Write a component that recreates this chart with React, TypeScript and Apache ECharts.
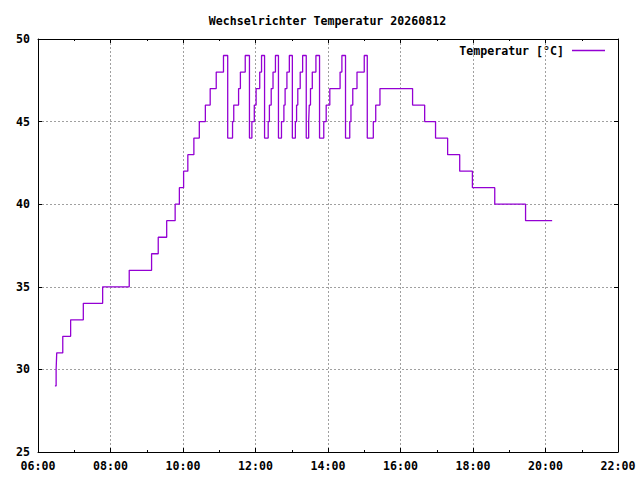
import React, { useEffect, useRef } from "react";
import * as echarts from "echarts";

const chartTitle = "Wechselrichter Temperatur 20260812";
const seriesName = "Temperatur [°C]";

const times = [
  "06:28", "06:30", "06:31", "06:41", "06:54", "07:15", "07:47", "08:31", "09:08", "09:19",
  "09:33", "09:47", "09:54", "10:01", "10:08", "10:18", "10:27", "10:37", "10:45", "10:55",
  "11:07", "11:14", "11:22", "11:24", "11:32", "11:35", "11:43", "11:50", "11:54", "11:58",
  "12:01", "12:07", "12:10", "12:15", "12:21", "12:23", "12:26", "12:29", "12:33", "12:38",
  "12:43", "12:47", "12:49", "12:52", "12:56", "13:01", "13:06", "13:08", "13:10", "13:14",
  "13:18", "13:24", "13:28", "13:29", "13:31", "13:34", "13:40", "13:46", "13:53", "13:57",
  "14:03", "14:20", "14:23", "14:29", "14:36", "14:38", "14:41", "14:48", "15:00", "15:05",
  "15:15", "15:19", "15:26", "16:20", "16:40", "16:58", "17:18", "17:38", "17:59", "18:36",
  "19:27", "20:11",
];

const temps = [
  29, 30, 31, 32, 33, 34, 35, 36, 37, 38,
  39, 40, 41, 42, 43, 44, 45, 46, 47, 48,
  49, 44, 45, 46, 47, 48, 49, 44, 45, 46,
  47, 48, 49, 44, 45, 46, 47, 48, 49, 44,
  45, 46, 47, 48, 49, 44, 45, 46, 47, 48,
  49, 44, 45, 46, 47, 48, 49, 44, 45, 46,
  47, 48, 49, 44, 45, 46, 47, 48, 49, 44,
  45, 46, 47, 46, 45, 44, 43, 42, 41, 40,
  39, 39,
];

const xMin = "06:00";
const xMax = "22:00";
const yMin = 25;
const yMax = 50;

const toMin = (s: string) => {
  const [h, m] = s.split(":").map(Number);
  return h * 60 + m;
};
const fmt = (v: number) => {
  const h = Math.floor(v / 60);
  const m = Math.round(v % 60);
  return `${String(h).padStart(2, "0")}:${String(m).padStart(2, "0")}`;
};

const FONT = "'DejaVu Sans Mono', monospace";
const LINE_COLOR = "#9400d3";

export default function App() {
  const ref = useRef<HTMLDivElement>(null);
  useEffect(() => {
    if (!ref.current) return;
    const chart = echarts.init(ref.current, undefined, { renderer: "svg" });
    const data = times.map((t, i) => [toMin(t), temps[i]]);
    const gridLine = { show: true, lineStyle: { color: "#a0a0a0", type: [2, 2], width: 1 } };
    const axisLineStyle = { show: true, lineStyle: { color: "#000", width: 1 } };
    const label = { fontFamily: FONT, fontSize: 11.6, fontWeight: "bold", color: "#000" };
    chart.setOption({
      animation: false,
      backgroundColor: "#fff",
      grid: { left: 38, top: 39, width: 580, height: 413, containLabel: false },
      xAxis: [
        {
          type: "value",
          min: toMin(xMin),
          max: toMin(xMax),
          interval: 120,
          axisLine: axisLineStyle,
          axisTick: { show: true, inside: true, length: 4, lineStyle: { color: "#000" } },
          minorTick: { show: true, splitNumber: 2, length: 2, lineStyle: { color: "#000" } },
          axisLabel: { ...label, margin: 8, formatter: (v: number) => fmt(v) },
          splitLine: gridLine,
        },
        {
          type: "value",
          position: "top",
          min: toMin(xMin),
          max: toMin(xMax),
          interval: 120,
          axisLine: axisLineStyle,
          axisTick: { show: true, inside: true, length: 4, lineStyle: { color: "#000" } },
          minorTick: { show: true, splitNumber: 2, length: 2, lineStyle: { color: "#000" } },
          axisLabel: { show: false },
          splitLine: { show: false },
        },
      ],
      yAxis: [
        {
          type: "value",
          min: yMin,
          max: yMax,
          interval: 5,
          axisLine: axisLineStyle,
          axisTick: { show: true, inside: true, length: 4, lineStyle: { color: "#000" } },
          axisLabel: { ...label, margin: 8 },
          splitLine: gridLine,
        },
        {
          type: "value",
          position: "right",
          min: yMin,
          max: yMax,
          interval: 5,
          axisLine: axisLineStyle,
          axisTick: { show: true, inside: true, length: 4, lineStyle: { color: "#000" } },
          axisLabel: { show: false },
          splitLine: { show: false },
        },
      ],
      series: [
        {
          name: seriesName,
          type: "line",
          step: "end",
          data,
          showSymbol: false,
          lineStyle: { color: LINE_COLOR, width: 1.3 },
          itemStyle: { color: LINE_COLOR },
        },
      ],
      graphic: [
        {
          type: "text",
          x: 327.5,
          y: 21,
          style: {
            text: chartTitle,
            font: `bold 11.6px ${FONT}`,
            fill: "#000",
            align: "center",
            verticalAlign: "middle",
          },
        },
        {
          type: "text",
          x: 564,
          y: 50.5,
          style: {
            text: seriesName,
            font: `bold 11.6px ${FONT}`,
            fill: "#000",
            align: "right",
            verticalAlign: "middle",
          },
        },
        {
          type: "line",
          shape: { x1: 572, y1: 50.5, x2: 605, y2: 50.5 },
          style: { stroke: LINE_COLOR, lineWidth: 1.3 },
        },
      ],
    });
    return () => chart.dispose();
  }, []);
  return (
    <div
      ref={ref}
      style={{ position: "fixed", left: 0, top: 0, width: 640, height: 480, background: "#fff" }}
    />
  );
}
